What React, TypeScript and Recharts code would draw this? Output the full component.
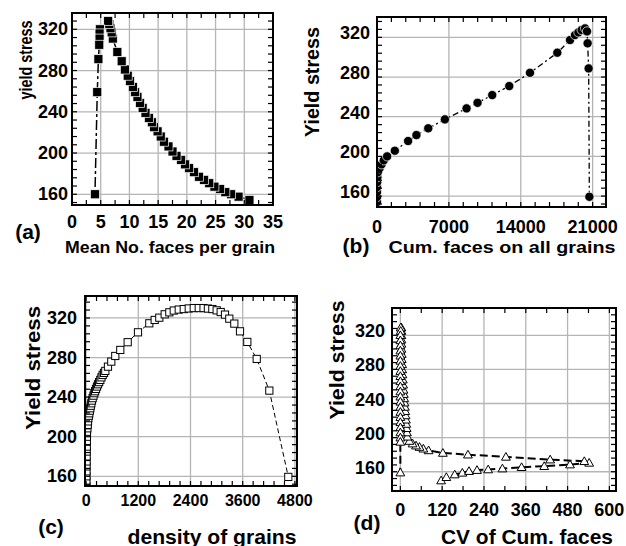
import { Scatter, ScatterChart, XAxis, YAxis } from "recharts";

const FONT = '"Liberation Sans", Arial, Helvetica, sans-serif';
const GRID = "#b5b5b5";
const W = 313;
const H = 273;

// (a) mean number of faces per grain vs yield stress
const aFaces = [
  30.9, 29.0, 27.7, 26.7, 25.8, 24.8, 23.9, 23.0, 22.1, 21.25,
  20.4, 19.7, 19.0, 18.2, 17.5, 16.8, 16.0, 15.45, 14.9, 14.3,
  13.9, 13.4, 12.8, 12.3, 11.85, 11.4, 11.0, 10.6, 10.1, 9.7,
  9.2, 8.65, 7.9, 7.1, 6.9, 6.7, 6.5, 6.3,
  4.85, 4.8, 4.8, 4.75, 4.6, 4.4, 4.0,
];
const aStress = [
  154.5, 157.7, 160, 162, 165, 167.4, 170.7, 174, 177, 181.4,
  185.3, 189, 193.4, 197.3, 201.5, 206.4, 211, 216, 221, 225,
  229.8, 234, 239, 243.8, 248.6, 254.5, 259, 264, 269.7, 275,
  281, 289, 298, 311, 317, 321, 325, 328,
  320, 316, 311, 305, 291, 259, 160,
];
const aXLabels = [0, 5, 10, 15, 20, 25, 30, 35];

// (b) cumulative faces on all grains
const bFaces = [
  0, 0, 0, 0, 20, 40, 80, 250, 450, 660, 985, 1735, 3030, 3840, 4990, 6610,
  8720, 9790, 11220, 12880, 14900, 17560, 18800, 19280, 19610, 19930, 20260,
  20450, 20510, 20610, 20680,
];
const bStress = [
  154, 159, 164, 169, 174, 179, 184, 188, 192, 196, 200, 205.7, 215.5, 221.5,
  228.3, 237.3, 248.4, 254, 261.8, 270.9, 284.3, 304.5, 317.3, 322.3, 325,
  327.4, 329, 326, 314, 288.7, 159.3,
];
const bXLabels = [0, 7000, 14000, 21000];

// (c) density of grains
const cDensity = [
  7, 7, 8, 9, 10, 11, 12, 14, 15, 17,
  19, 21, 29, 37, 44, 51, 62, 74, 85, 97,
  108, 120, 135, 151, 170, 189, 208, 228, 251, 274,
  300, 327, 354, 381, 412, 442, 503, 579, 671, 786,
  956, 1193, 1453, 1577, 1683, 1807, 1913, 2015, 2130, 2245,
  2360, 2475, 2590, 2700, 2800, 2902, 3002, 3094, 3193, 3292,
  3407, 3538, 3706, 3922, 4212, 4648,
];
const cStress = [
  150, 155, 160, 165, 170, 175, 180, 185, 190, 195,
  200, 205, 208.5, 212, 215.5, 218.7, 221.2, 223.7, 226.3, 228.8,
  231.3, 233.8, 236.5, 239, 241.5, 244, 246, 248.3, 250.7, 253,
  255.2, 257.4, 260, 262.4, 264.5, 266.5, 270.8, 275.9, 281.6, 287.7,
  295.5, 305.5, 314.6, 318, 320.3, 323.7, 325.7, 327.5, 328.5, 329,
  329.6, 330, 330, 330, 329.5, 329, 327.7, 326, 323.4, 319.3,
  314.3, 306.5, 295.8, 278.6, 246.6, 159.4,
];
const cXLabels = [0, 1200, 2400, 3600, 4800];

// (d) CV of cumulative faces
const dCV = [
  117, 132, 156, 178, 197, 220, 252, 293, 348, 413, 487, 542,
  528, 430, 303, 194, 122, 81, 66, 55, 45, 35, 26,
  20, 19, 18, 17, 16, 15, 14, 13, 12, 11, 10, 9, 8, 7, 6, 5, 5, 4, 4, 3, 3, 3, 3, 3, 3,
  1, 1, 0, 0, 0, 0, 0, 0, 0, 0, 0, 0, 0, 0, 0, 0, 0, 0, 0, 0, 0, 0, 0, 0, 0,
];
const dStress = [
  149.7, 153.6, 156.7, 158.7, 160.7, 161.9, 162.6, 163.7, 165.3, 166.5, 168.4, 170.4,
  172.3, 174.2, 177.4, 180, 182, 185, 187, 189, 190.6, 193, 196,
  201, 206, 211, 216, 221, 226, 231, 236, 241, 246, 251, 256, 262, 268, 274, 280, 286, 292, 298, 304, 310, 315, 320, 325, 329,
  329, 325, 320, 314, 308, 302, 296, 290, 284, 278, 272, 266, 260, 254, 248, 242, 236, 230, 224, 218, 212, 206, 200, 195, 159,
];
const dXLabels = [0, 120, 240, 360, 480, 600];

const stressLabels = [160, 200, 240, 280, 320];

type Pt = { x: number; y: number };
const zip = (xs: number[], ys: number[]): Pt[] => xs.map((x, i) => ({ x, y: ys[i] }));

function range(from: number, to: number, step: number) {
  const out: number[] = [];
  for (let v = from; v <= to + 1e-9; v += step) out.push(v);
  return out;
}

interface Box {
  left: number;
  right: number;
  top: number;
  bottom: number;
}
interface LabelStyle {
  offset: number;
  shift: number;
  size: number;
}

const TICK = 5;

// labels for the bottom axis; the first tick also draws the plot frame
function xTick(box: Box, style: LabelStyle) {
  return (props: any) => {
    const { x, payload, index } = props;
    return (
      <g>
        {index === 0 && (
          <rect
            x={box.left}
            y={box.top}
            width={box.right - box.left}
            height={box.bottom - box.top}
            fill="none"
            stroke="#000"
            strokeWidth={2}
          />
        )}
        <text
          x={x}
          y={box.bottom + style.offset}
          textAnchor="middle"
          dominantBaseline="central"
          fontFamily={FONT}
          fontWeight={700}
          fontSize={style.size}
          fill="#000"
        >
          {payload?.value}
        </text>
      </g>
    );
  };
}

function yTick(box: Box, style: LabelStyle) {
  return (props: any) => {
    const { y, payload } = props;
    return (
      <text
        x={box.left - style.offset}
        y={y + style.shift}
        textAnchor="end"
        dominantBaseline="central"
        fontFamily={FONT}
        fontWeight={700}
        fontSize={style.size}
        fill="#000"
      >
        {payload?.value}
      </text>
    );
  };
}

// inward tick marks, positioned by the chart scales
const tickUp = (s: any) => <rect x={s.cx - 0.6} y={s.cy - TICK} width={1.2} height={TICK} fill="#000" />;
const tickDown = (s: any) => <rect x={s.cx - 0.6} y={s.cy} width={1.2} height={TICK} fill="#000" />;
const tickRight = (s: any) => <rect x={s.cx} y={s.cy - 0.6} width={TICK} height={1.2} fill="#000" />;
const tickLeft = (s: any) => <rect x={s.cx - TICK} y={s.cy - 0.6} width={TICK} height={1.2} fill="#000" />;
const blank = () => <g />;

const filledSquare = (p: any) => (
  <rect x={p.cx - 4.5} y={p.cy - 4.5} width={9} height={9} fill="#000" stroke="#fff" strokeWidth={0.7} />
);
const filledCircle = (p: any) => (
  <circle cx={p.cx} cy={p.cy} r={4.6} fill="#000" stroke="#fff" strokeWidth={0.7} />
);
const openSquare = (p: any) => (
  <rect x={p.cx - 3.6} y={p.cy - 3.6} width={7.2} height={7.2} fill="#fff" stroke="#000" strokeWidth={1} />
);
const openTriangle = (p: any) => {
  const s = 4.4;
  return (
    <polygon
      points={`${p.cx},${p.cy - s} ${p.cx + s},${p.cy + s * 0.75} ${p.cx - s},${p.cy + s * 0.75}`}
      fill="#fff"
      stroke="#000"
      strokeWidth={1}
    />
  );
};

interface PanelProps {
  left: number;
  top: number;
  plot: Box;
  xDomain: [number, number];
  yDomain: [number, number];
  xLabels: number[];
  xMinor: number[];
  yLabels: number[];
  yMinor: number[];
  points: Pt[];
  marker: (p: any) => JSX.Element;
  line: { strokeDasharray: string; strokeWidth: number };
  xStyle: LabelStyle;
  yStyle: LabelStyle;
}

function Panel(p: PanelProps) {
  const [x0, x1] = p.xDomain;
  const [y0, y1] = p.yDomain;
  const xTicks = Array.from(new Set([...p.xLabels, ...p.xMinor])).sort((a, b) => a - b);
  const yTicks = Array.from(new Set([...p.yLabels, ...p.yMinor])).sort((a, b) => a - b);
  const gridLines = [
    ...p.xLabels.map((v) => [{ x: v, y: y0 }, { x: v, y: y1 }]),
    ...p.yLabels.map((v) => [{ x: x0, y: v }, { x: x1, y: v }]),
  ];
  const tickSets: [Pt[], (s: any) => JSX.Element][] = [
    [xTicks.map((v) => ({ x: v, y: y0 })), tickUp],
    [xTicks.map((v) => ({ x: v, y: y1 })), tickDown],
    [yTicks.map((v) => ({ x: x0, y: v })), tickRight],
    [yTicks.map((v) => ({ x: x1, y: v })), tickLeft],
  ];
  return (
    <div style={{ position: "absolute", left: p.left, top: p.top, width: W, height: H }}>
      <ScatterChart
        width={W}
        height={H}
        margin={{ top: p.plot.top, right: W - p.plot.right, bottom: 0, left: 0 }}
      >
        <XAxis
          type="number"
          dataKey="x"
          domain={p.xDomain}
          allowDataOverflow
          ticks={p.xLabels}
          interval={0}
          height={H - p.plot.bottom}
          axisLine={false}
          tickLine={false}
          tick={xTick(p.plot, p.xStyle)}
        />
        <YAxis
          type="number"
          dataKey="y"
          domain={p.yDomain}
          allowDataOverflow
          ticks={p.yLabels}
          interval={0}
          width={p.plot.left}
          axisLine={false}
          tickLine={false}
          tick={yTick(p.plot, p.yStyle)}
        />
        {gridLines.map((seg, i) => (
          <Scatter
            key={`grid${i}`}
            data={seg}
            shape={blank}
            line={{ stroke: GRID, strokeWidth: 1.3 }}
            isAnimationActive={false}
          />
        ))}
        <Scatter
          data={p.points}
          shape={p.marker}
          line={{ stroke: "#000", ...p.line }}
          lineJointType="linear"
          isAnimationActive={false}
        />
        {tickSets.map(([pts, shape], i) => (
          <Scatter key={`ticks${i}`} data={pts} shape={shape} isAnimationActive={false} />
        ))}
      </ScatterChart>
    </div>
  );
}

const titles = [
  { text: "yield stress", x: 25, y: 60, size: 19, len: 79, rotate: true },
  { text: "Yield stress", x: 312, y: 82, size: 20, len: 110, rotate: true },
  { text: "Yield stress", x: 32, y: 368, size: 21, len: 124, rotate: true },
  { text: "Yield stress", x: 336, y: 360, size: 21, len: 119, rotate: true },
  { text: "Mean No. faces per grain", x: 170, y: 247, size: 17, len: 210 },
  { text: "Cum. faces on all grains", x: 502, y: 247, size: 17, len: 227 },
  { text: "density of grains", x: 212, y: 536, size: 21, len: 169 },
  { text: "CV of Cum. faces", x: 527, y: 536, size: 21, len: 172 },
  { text: "(a)", x: 28, y: 231, size: 21 },
  { text: "(b)", x: 356, y: 245, size: 21 },
  { text: "(c)", x: 51, y: 526, size: 21 },
  { text: "(d)", x: 367, y: 522, size: 21 },
];

export default function App() {
  return (
    <div style={{ position: "absolute", left: 0, top: 0, width: 626, height: 546, background: "#fff" }}>
      <Panel
        left={0}
        top={0}
        plot={{ left: 72, right: 273, top: 13, bottom: 205 }}
        xDomain={[0, 35]}
        yDomain={[149.6, 335.8]}
        xLabels={aXLabels}
        xMinor={range(2.5, 32.5, 5)}
        yLabels={stressLabels}
        yMinor={range(152, 328, 8)}
        points={zip(aFaces, aStress)}
        marker={filledSquare}
        line={{ strokeDasharray: "10 3 3 3", strokeWidth: 1.5 }}
        xStyle={{ offset: 17, shift: 0, size: 18 }}
        yStyle={{ offset: 4, shift: 0, size: 18 }}
      />
      <Panel
        left={313}
        top={0}
        plot={{ left: 64, right: 293, top: 17, bottom: 207 }}
        xDomain={[0, 22300]}
        yDomain={[149, 340.5]}
        xLabels={bXLabels}
        xMinor={range(1400, 21000, 1400)}
        yLabels={stressLabels}
        yMinor={range(152, 336, 8)}
        points={zip(bFaces, bStress)}
        marker={filledCircle}
        line={{ strokeDasharray: "6 3 2 3", strokeWidth: 1.3 }}
        xStyle={{ offset: 20, shift: 0, size: 18 }}
        yStyle={{ offset: 7, shift: -4, size: 18 }}
      />
      <Panel
        left={0}
        top={273}
        plot={{ left: 85, right: 297, top: 23, bottom: 213 }}
        xDomain={[-25, 4848]}
        yDomain={[150.2, 342.2]}
        xLabels={cXLabels}
        xMinor={range(240, 4800, 240)}
        yLabels={stressLabels}
        yMinor={range(152, 336, 8)}
        points={zip(cDensity, cStress)}
        marker={openSquare}
        line={{ strokeDasharray: "5 3", strokeWidth: 1 }}
        xStyle={{ offset: 14, shift: 0, size: 16 }}
        yStyle={{ offset: 8, shift: 0, size: 18 }}
      />
      <Panel
        left={313}
        top={273}
        plot={{ left: 79, right: 303, top: 35, bottom: 218 }}
        xDomain={[-24, 619]}
        yDomain={[137.4, 352]}
        xLabels={dXLabels}
        xMinor={range(60, 600, 60)}
        yLabels={stressLabels}
        yMinor={range(144, 344, 8)}
        points={zip(dCV, dStress)}
        marker={openTriangle}
        line={{ strokeDasharray: "8 4", strokeWidth: 2 }}
        xStyle={{ offset: 19, shift: 0, size: 18 }}
        yStyle={{ offset: 7, shift: -4, size: 18 }}
      />
      <svg
        width={626}
        height={546}
        style={{ position: "absolute", left: 0, top: 0, pointerEvents: "none" }}
      >
        {titles.map((t) => (
          <text
            key={t.text + t.x}
            x={t.x}
            y={t.y}
            textAnchor="middle"
            dominantBaseline="central"
            fontFamily={FONT}
            fontWeight={700}
            fontSize={t.size}
            fill="#000"
            textLength={t.len}
            lengthAdjust={t.len ? "spacingAndGlyphs" : undefined}
            transform={t.rotate ? `rotate(-90 ${t.x} ${t.y})` : undefined}
          >
            {t.text}
          </text>
        ))}
      </svg>
    </div>
  );
}
